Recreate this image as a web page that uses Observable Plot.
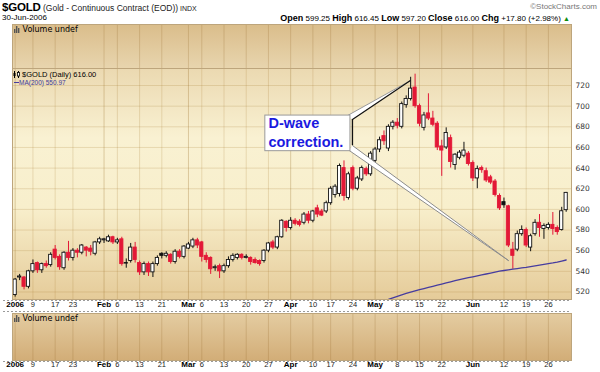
<!DOCTYPE html>
<html><head><meta charset="utf-8">
<script src="https://cdn.jsdelivr.net/npm/d3@7"></script>
<script src="https://cdn.jsdelivr.net/npm/@observablehq/plot@0.6"></script>
<style>
body{margin:0;background:#fff;}
#c{position:relative;width:600px;height:372px;overflow:hidden;font-family:"Liberation Sans",Arial,sans-serif;color:#000;}
#c svg.p{position:absolute;left:0;}
.abs{position:absolute;white-space:nowrap;}
.dash{position:absolute;height:1px;background:repeating-linear-gradient(90deg,#9a9a9a 0 2px,transparent 2px 4px);}
</style></head><body><div id="c"></div>
<script>
// ---- data: $GOLD daily, 3-Jan-2006 .. 30-Jun-2006 (trading-day index 0..124)
const openP = [517,534,534,525,540,548,541,547,546,561,554,543,558,553,560,558,563,562,557,568,
570,569,573,568,571,548,550,563,548,539,547,539,547,557,555,556,549,559,554,562,
564,570,568,555,553,543,545,540,545,551,553,556,553,553,551,550,550,560,568,563,
573,588,582,589,588,587,595,589,601,598,598,606,614,615,640,611,640,620,629,639,
634,647,658,671,659,680,684,680,701,707,718,700,679,693,688,683,661,660,669,643,
650,652,654,645,630,640,637,631,627,613,607,603,561,561,576,580,563,576,587,581,
582,585,582,580,599.25];
const highP = [533,537,535,541,551,549,548,550,558,565,556,559,569,562,562,566,564,565,569,573,
572,575,574,572,573,552,567,568,550,549,549,549,555,558,559,557,561,561,565,568,
572,572,569,558,554,546,547,547,554,557,557,557,556,554,553,551,561,568,570,574,
590,589,592,591,590,597,598,599,604,600,608,622,624,644,647,636,642,632,642,641,
656,660,670,676,682,686,688,704,710,728,731,702,694,712,695,685,667,679,672,654,
657,665,656,647,642,642,640,633,629,615,611,604,568,579,584,582,576,590,595,586,
587,597,584,602,616.45];
const lowP = [515,531,522,523,538,538,538,543,544,551,541,541,550,550,553,556,554,555,555,566,
567,568,566,566,545,543,548,548,536,536,535,534,545,552,553,547,547,552,552,561,
562,562,549,548,537,540,533,538,543,549,551,551,552,546,547,545,548,558,561,561,
572,578,580,584,583,585,586,587,592,593,596,604,611,612,608,609,618,618,627,632,
632,645,655,662,656,677,678,678,698,705,698,680,676,686,680,657,632,658,640,638,
648,650,642,627,620,635,626,624,612,599,601,563,542,559,574,563,559,574,573,571,
580,575,575,579,597.2];
const closeP = [532,535,525,540,547,541,547,545,556,553,544,558,553,560,558,565,560,559,568,571,
571,573,568,570,547,547.5,563,551,539,547,539,547,553,555,557,549,559,554,564,566,
570,565,554,551,542,544,540,545,551,555,556,553,554,549,548,547,560,567,563,573,
589,582,589,586,585,595,589,598,595,594,606,620,622,642,613,634,620,630,640,634,
654,658,667,666,680,684,681,702,707,717,700,683,691,688,682,660,657,674,646,653,
655,657,644,630,639,638,628,626,614,601,604,565,555,576,580,565,574,587,582,584,
585,581,578,598.2,616];
// 200-day moving average, from trading day 83 onward (earlier values fall below the panel)
const maStart = 83;
const maValues = [511.5,512.8,514.3,515.8,517.2,518.6,519.9,521.1,522.2,523.3,524.4,525.5,526.6,527.6,
528.7,529.8,530.9,532.0,532.9,533.8,534.7,535.6,536.5,537.4,538.3,539.2,540.1,540.8,541.5,542.1,
542.7,543.3,543.9,544.6,545.3,546.0,546.7,547.4,548.1,548.9,549.9,550.97];
// x-axis ticks (trading-day index) and their labels
const tickIdx = [0,4,9,13,20,23,28,33,39,42,47,52,57,62,67,71,76,81,86,91,96,103,110,115,120];
const tickLabels = ["2006","9","17","23","Feb","6","13","21","Mar","6","13","20","27","Apr","10","17","24","May","8","15","22","Jun","12","19","26"];
const yTicks = [520,540,560,580,600,620,640,660,680,700,720];
const calloutLines = ["D-wave","correction."];

// ---- build
const RED = "#e31837", INK = "#111", MA = "#463c9f";
const GRID = "rgba(160,115,40,0.20)", GRIDM = "rgba(150,105,35,0.30)";
const VGRID = "rgba(140,95,30,0.22)", BORDER = "#bda57c";
const FONT = "'Liberation Sans', Arial, sans-serif";
const xDom = [-0.6, 125.2];

const candles = closeP.map((c, i) => ({i, o: openP[i], h: highP[i], l: lowP[i], c, p: i ? closeP[i-1] : openP[i]}));
const colOf = d => (d.c >= d.p ? INK : RED);
const fillOf = d => (d.c >= d.o ? "#ffffff" : colOf(d));
const ticks = tickIdx.map((i, k) => ({i, label: tickLabels[k], major: !/^\d{1,2}$/.test(tickLabels[k])}));
const minorT = ticks.filter(t => !t.major), majorT = ticks.filter(t => t.major);
const ma = maValues.map((v, k) => ({i: maStart + k, v}));

// callout anchors in data space (trading-day index, price)
const cBox = [{x1: 56.3, x2: 75.45, y1: 656.4, y2: 690.9}];
const tipUp = {i: 88.95, v: 724.8}, tipDown = {i: 111.0, v: 550.5};
const wedgeUp = [{i: 74.8, v: 690.9}, tipUp, {i: 75.9, v: 687.1}];
const wedgeDown = [{i: 75.9, v: 661.9}, tipDown, {i: 75.2, v: 657.0}];
const cText = calloutLines.map((t, k) => ({t, i: 57.0, v: k ? 665.1 : 682.9}));

function addGrad(svg, id, stops) {
  const g = d3.select(svg).insert("defs", ":first-child").append("linearGradient")
    .attr("id", id).attr("x1", 0).attr("x2", 0).attr("y1", 0).attr("y2", 1);
  stops.forEach(([o, c]) => g.append("stop").attr("offset", o).attr("stop-color", c));
}
function place(svg, top) { svg.classList.add("p"); svg.style.top = top + "px"; svg.style.background = "transparent"; return svg; }

const base = {width: 600, marginLeft: 12, marginRight: 29, x: {domain: xDom, axis: null}, color: {type: "identity"},
  style: {fontFamily: FONT, fontSize: "8px", background: "transparent", overflow: "visible"}};

const topP = Plot.plot({...base, height: 44, marginTop: 0, marginBottom: 0, y: {domain: [0, 1], axis: null},
  marks: [
    Plot.frame({fill: "url(#gTop)"}),
    Plot.ruleX(tickIdx, {stroke: VGRID}),
    Plot.frame({stroke: BORDER})
  ]});
addGrad(topP, "gTop", [[0, "#dabd8b"], [1, "#e8d5ae"]]);

const mainP = Plot.plot({...base, height: 244, marginTop: 0, marginBottom: 13,
  y: {domain: [512.7, 736.5], axis: null},
  marks: [
    Plot.frame({fill: "url(#gMain)"}),
    Plot.ruleY(yTicks, {stroke: GRID}),
    Plot.ruleX(minorT, {x: "i", stroke: GRID}),
    Plot.ruleX(majorT, {x: "i", stroke: GRIDM}),
    Plot.ruleX(candles, {x: "i", y1: "l", y2: "h", stroke: colOf, strokeWidth: 1}),
    Plot.rect(candles, {x1: d => d.i - 0.36, x2: d => d.i + 0.36, y1: "o", y2: "c", fill: fillOf, stroke: colOf, strokeWidth: 0.9}),
    Plot.line(ma, {x: "i", y: "v", stroke: MA, strokeWidth: 1.3, clip: true}),
    Plot.line(wedgeUp, {x: "i", y: "v", fill: "#fff", stroke: "none"}),
    Plot.line(wedgeDown, {x: "i", y: "v", fill: "#fff", stroke: "none"}),
    Plot.line([wedgeUp[0], wedgeUp[1]], {x: "i", y: "v", stroke: "#9a9a9a", strokeWidth: 1}),
    Plot.line([wedgeUp[2], wedgeUp[1]], {x: "i", y: "v", stroke: "#111", strokeWidth: 1.2}),
    Plot.line([wedgeDown[0], wedgeDown[1]], {x: "i", y: "v", stroke: "#8c8c8c", strokeWidth: 1}),
    Plot.line([wedgeDown[2], wedgeDown[1]], {x: "i", y: "v", stroke: "#8c8c8c", strokeWidth: 1}),
    Plot.rect(cBox, {x1: "x1", x2: "x2", y1: "y1", y2: "y2", fill: "#fff", stroke: "#9a9a9a"}),
    Plot.ruleX([{i: 75.9, a: 661.9, b: 687.1}], {x: "i", y1: "a", y2: "b", stroke: "#111", strokeWidth: 1.3}),
    Plot.text(cText, {x: "i", y: "v", text: "t", textAnchor: "start", fontSize: 14.5, fontWeight: "bold", fill: "#1a1ae0", fontFamily: FONT}),
    Plot.text(yTicks, {y: d => d, text: d => String(d), frameAnchor: "right", dx: 4, textAnchor: "start", fontSize: 7.5, fill: "#333", fontFamily: "'DejaVu Sans', Verdana, sans-serif"}),
    Plot.text(minorT, {x: "i", text: "label", frameAnchor: "bottom", dy: 7, fontSize: 7.5, fill: "#222"}),
    Plot.text(majorT, {x: "i", text: "label", frameAnchor: "bottom", dy: 7, fontSize: 8, fontWeight: "bold", fill: "#000"}),
    Plot.frame({stroke: BORDER})
  ]});
addGrad(mainP, "gMain", [[0, "#ebd9b1"], [0.3, "#f9f1d2"], [0.6, "#f8efcc"], [1, "#e5cb99"]]);

const lowP2 = Plot.plot({...base, height: 60, marginTop: 1, marginBottom: 12, y: {domain: [0, 1], axis: null},
  marks: [
    Plot.frame({fill: "url(#gLow)"}),
    Plot.ruleX(tickIdx, {stroke: VGRID}),
    Plot.frame({stroke: BORDER}),
    Plot.text(minorT, {x: "i", text: "label", frameAnchor: "bottom", dy: 6, fontSize: 7.5, fill: "#222"}),
    Plot.text(majorT, {x: "i", text: "label", frameAnchor: "bottom", dy: 6, fontSize: 8, fontWeight: "bold", fill: "#000"})
  ]});
addGrad(lowP2, "gLow", [[0, "#e4cca1"], [1, "#d2ad77"]]);

const c = document.getElementById("c");
c.appendChild(place(topP, 24));
c.appendChild(place(mainP, 68));
c.appendChild(place(lowP2, 312));

const candleIcon = '<svg width="7" height="7" style="vertical-align:-1px"><path d="M1.5 0v7M5.5 0v7" stroke="#000"/><rect x="0.5" y="2" width="2" height="3" fill="#000"/><rect x="4.5" y="1.5" width="2" height="3.5" fill="#fff" stroke="#000" stroke-width="0.8"/></svg>';
const volIcon = '<svg width="6" height="7" style="vertical-align:-1px"><rect x="0" y="3" width="1.4" height="4" fill="#555"/><rect x="2" y="0" width="1.4" height="7" fill="#555"/><rect x="4" y="2" width="1.4" height="5" fill="#555"/></svg>';

c.insertAdjacentHTML("beforeend", `
<div class="abs" style="left:2px;top:0px;font-size:11.5px;line-height:15px;font-weight:bold;letter-spacing:-0.2px">$GOLD<span style="font-weight:normal;font-size:8.5px;letter-spacing:0;color:#222"> (Gold - Continuous Contract (EOD))</span><span style="font-weight:normal;font-size:7px;letter-spacing:0;color:#222"> INDX</span></div>
<div class="abs" style="right:3px;top:2px;font-size:8px;line-height:10px;color:#777">©StockCharts.com</div>
<div class="abs" style="left:2px;top:13px;font-size:8px;line-height:10px">30-Jun-2006</div>
<div class="abs" style="right:30px;top:13px;font-size:8px;line-height:10px"><b style="font-size:9px">Open</b> 599.25 <b style="font-size:9px">High</b> 616.45 <b style="font-size:9px">Low</b> 597.20 <b style="font-size:9px">Close</b> 616.00 <b style="font-size:9px">Chg</b> +17.80 (+2.98%) <span style="color:#0a8a0a;font-size:7px">▲</span></div>
<div class="abs" style="left:14px;top:25px;font-size:8px;line-height:10px;font-family:'DejaVu Sans',Verdana,sans-serif">${volIcon} Volume undef</div>
<div class="abs" style="left:13px;top:70px;font-size:7.5px;line-height:9px">${candleIcon} $GOLD (Daily) 616.00</div>
<div class="abs" style="left:14px;top:79px;font-size:6.5px;line-height:8px;color:#3c3c9c"><span style="display:inline-block;width:5px;height:1.5px;background:${MA};vertical-align:2px"></span>MA(200) 550.97</div>
<div class="abs" style="left:14px;top:314px;font-size:8px;line-height:10px;font-family:'DejaVu Sans',Verdana,sans-serif">${volIcon} Volume undef</div>
<div class="dash" style="left:3px;top:300px;width:568px"></div>
<div class="dash" style="left:3px;top:311px;width:568px"></div>
<div class="dash" style="left:3px;top:361px;width:568px"></div>
`);
</script></body></html>
